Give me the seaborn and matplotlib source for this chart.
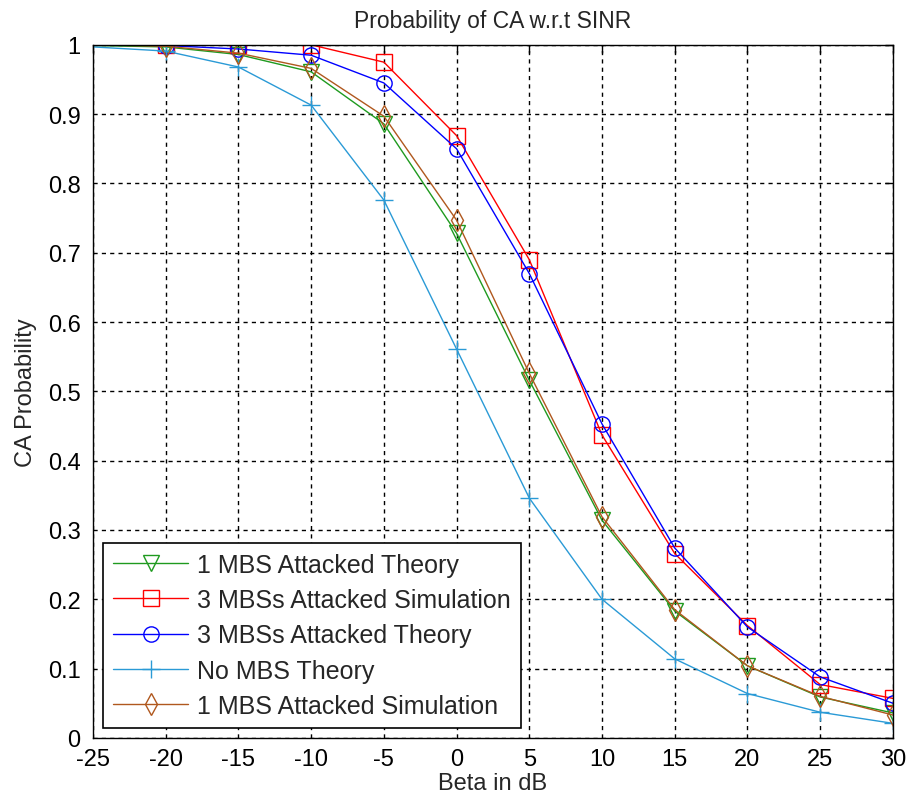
import matplotlib
matplotlib.use("Agg")
import matplotlib.pyplot as plt
import seaborn as sns

# Beta in dB
beta = [-25, -20, -15, -10, -5, 0, 5, 10, 15, 20, 25, 30]

one_mbs_theory = [0.999, 0.997, 0.986, 0.961, 0.886, 0.728, 0.516, 0.314, 0.183, 0.104, 0.059, 0.036]
three_mbs_sim = [1.0, 1.0, 1.0, 1.0, 0.975, 0.869, 0.690, 0.437, 0.266, 0.162, 0.077, 0.057]
three_mbs_theory = [1.0, 0.999, 0.994, 0.985, 0.945, 0.850, 0.670, 0.453, 0.274, 0.160, 0.088, 0.050]
no_mbs_theory = [0.997, 0.991, 0.968, 0.913, 0.776, 0.561, 0.346, 0.200, 0.114, 0.064, 0.037, 0.021]
one_mbs_sim = [1.0, 0.998, 0.988, 0.966, 0.897, 0.747, 0.526, 0.319, 0.185, 0.104, 0.060, 0.033]

series = [
    ("1 MBS Attacked Theory", one_mbs_theory, "#1f9a1f", "v"),
    ("3 MBSs Attacked Simulation", three_mbs_sim, "#ff0000", "s"),
    ("3 MBSs Attacked Theory", three_mbs_theory, "#0000ff", "o"),
    ("No MBS Theory", no_mbs_theory, "#2a9ad6", "+"),
    ("1 MBS Attacked Simulation", one_mbs_sim, "#b0581e", "d"),
]

sns.set_style("white")
plt.rcParams["font.family"] = ["Liberation Sans", "DejaVu Sans"]
plt.rcParams["axes.unicode_minus"] = False

fig = plt.figure(figsize=(9.12, 8.04), dpi=100)
ax = fig.add_axes([0.102, 0.081, 0.877, 0.862])

for name, vals, col, mk in series:
    sns.lineplot(
        x=beta, y=vals, ax=ax, label=name, color=col, marker=mk,
        markersize=11 if mk != "+" else 13, markerfacecolor="none",
        markeredgecolor=col, markeredgewidth=1.0, linewidth=1.0,
        markevery=list(range(1, len(beta))),
    )

ax.set_xlim(-25, 30)
ax.set_ylim(0, 1)
ax.set_xticks(range(-25, 31, 5))
ax.set_yticks([i / 10 for i in range(11)])
ax.set_yticklabels(["0"] + [f"{i / 10:.1f}" for i in range(1, 10)] + ["1"])
ax.grid(True, color="black", linestyle=(0, (3, 3)), linewidth=1.0)
ax.tick_params(direction="in", length=6, width=1, top=True, right=True,
               labelsize=17, colors="black")
ax.tick_params(axis="y", pad=9)
ax.tick_params(axis="x", pad=7)
for s in ax.spines.values():
    s.set_color("black")
    s.set_linewidth(1.0)

ax.set_title("Probability of CA w.r.t SINR", fontsize=16.5, pad=13)
ax.set_xlabel("Beta in dB", fontsize=17, labelpad=2)
ax.set_ylabel("CA Probability", fontsize=17, labelpad=8)

leg = ax.legend(loc="lower left", fontsize=18, frameon=True, fancybox=False,
                edgecolor="black", framealpha=1, borderaxespad=0.4,
                handlelength=3.0, handletextpad=0.35, labelspacing=0.45,
                borderpad=0.4)
leg.get_frame().set_linewidth(1.2)

fig.savefig("out.png", dpi=100)
